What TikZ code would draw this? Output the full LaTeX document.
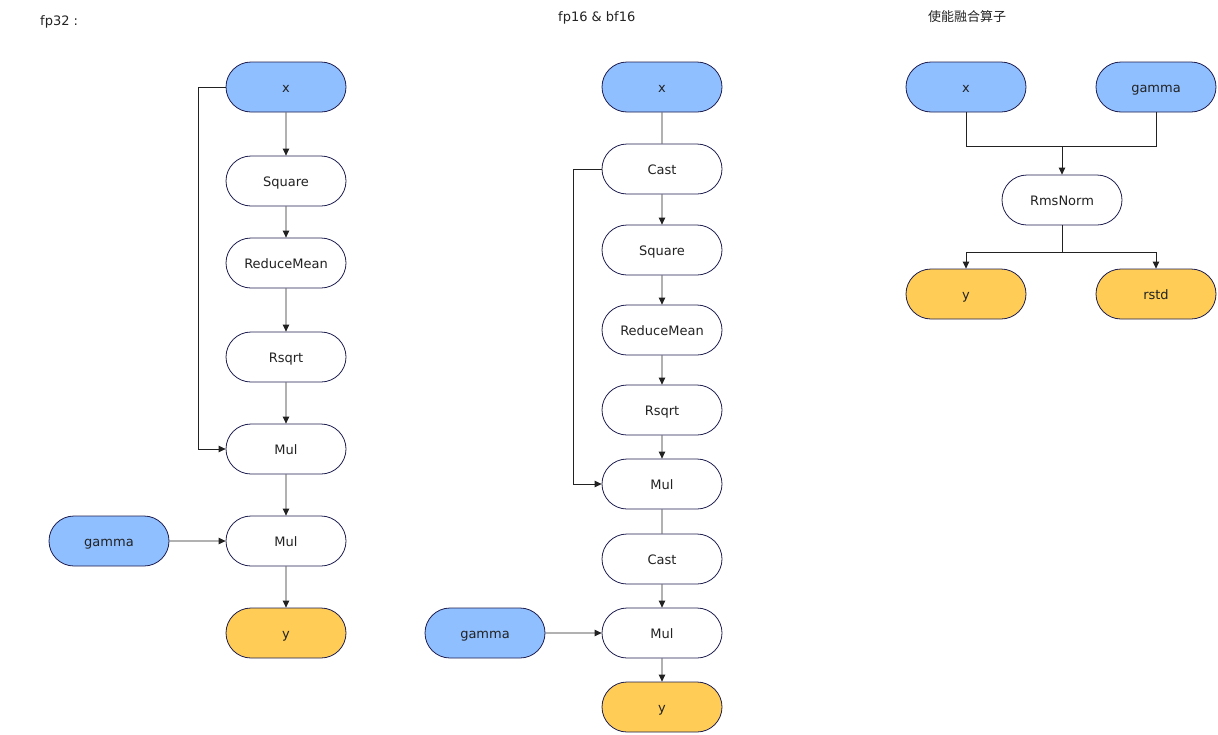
\documentclass[tikz,border=0pt]{standalone}
\usepackage{fontspec}
\setmainfont{DejaVu Sans}
\newfontfamily\cjk{Noto Sans CJK SC}
\usetikzlibrary{arrows.meta,shapes.misc}
\definecolor{inblue}{HTML}{8FBFFF}
\definecolor{outyel}{HTML}{FFCC55}
\definecolor{bord}{HTML}{1E1E50}
\definecolor{txt}{HTML}{222222}
\tikzset{
  opnode/.style={draw=bord, line width=0.8pt, rounded rectangle, minimum width=120pt, minimum height=50pt, inner sep=0pt, text height=11pt, text depth=1pt, text=txt, font=\fontsize{13}{15}\selectfont},
  inbox/.style={opnode, fill=inblue},
  outbox/.style={opnode, fill=outyel},
  midbox/.style={opnode, fill=white},
  conn/.style={draw=txt, line width=0.8pt},
  arr/.style={conn, -{Triangle[width=6.5pt,length=7pt]}},
  ttl/.style={text=txt, font=\fontsize{13}{15}\selectfont, inner sep=0pt}
}
\begin{document}
\begin{tikzpicture}[x=1pt,y=-1pt]
\useasboundingbox (0,0) rectangle (1218,734);
% titles
\node[ttl, anchor=west] (t1) at (40,22) {fp32 :};
\node[ttl, anchor=west] (t2) at (558,18) {fp16 \& bf16};
\node[ttl, anchor=west] (t3) at (928,17) {\cjk 使能融合算子};
% fp32 column
\node[inbox]  (ax)  at (286,87)  {x};
\node[midbox] (asq) at (286,181) {Square};
\node[midbox] (arm) at (286,263) {ReduceMean};
\node[midbox] (ars) at (286,357) {Rsqrt};
\node[midbox] (am1) at (286,449) {Mul};
\node[midbox] (am2) at (286,541) {Mul};
\node[outbox] (ay)  at (286,633) {y};
\node[inbox]  (ag)  at (109,541) {gamma};
\draw[arr] (ax) -- (asq);
\draw[arr] (asq) -- (arm);
\draw[arr] (arm) -- (ars);
\draw[arr] (ars) -- (am1);
\draw[arr] (am1) -- (am2);
\draw[arr] (am2) -- (ay);
\draw[arr] (ag) -- (am2);
\draw[arr] (ax.west) -- (198,87) -- (198,449) -- (am1.west);
% fp16 column
\node[inbox]  (bx)  at (662,87)  {x};
\node[midbox] (bc1) at (662,169) {Cast};
\node[midbox] (bsq) at (662,250) {Square};
\node[midbox] (brm) at (662,330) {ReduceMean};
\node[midbox] (brs) at (662,410) {Rsqrt};
\node[midbox] (bm1) at (662,484) {Mul};
\node[midbox] (bc2) at (662,559) {Cast};
\node[midbox] (bm2) at (662,633) {Mul};
\node[outbox] (by)  at (662,707) {y};
\node[inbox]  (bg)  at (485,633) {gamma};
\draw[conn] (bx) -- (bc1);
\draw[arr] (bc1) -- (bsq);
\draw[arr] (bsq) -- (brm);
\draw[arr] (brm) -- (brs);
\draw[arr] (brs) -- (bm1);
\draw[conn] (bm1) -- (bc2);
\draw[arr] (bc2) -- (bm2);
\draw[arr] (bm2) -- (by);
\draw[arr] (bg) -- (bm2);
\draw[arr] (bc1.west) -- (573,169) -- (573,484) -- (bm1.west);
% fused
\node[inbox]  (cx)  at (966,87)   {x};
\node[inbox]  (cg)  at (1156,87)  {gamma};
\node[midbox] (crn) at (1062,200) {RmsNorm};
\node[outbox] (cy)  at (966,294)  {y};
\node[outbox] (cr)  at (1156,294) {rstd};
\coordinate (cj1) at (1062,146);
\coordinate (cj2) at (1062,252);
\draw[conn] (cx.south) -- (966,146) -- (cj1);
\draw[conn] (cg.south) -- (1156,146) -- (cj1);
\draw[arr] (cj1) -- (crn.north);
\draw[conn] (crn.south) -- (cj2);
\draw[arr] (cj2) -- (966,252) -- (cy.north);
\draw[arr] (cj2) -- (1156,252) -- (cr.north);
\end{tikzpicture}
\end{document}
